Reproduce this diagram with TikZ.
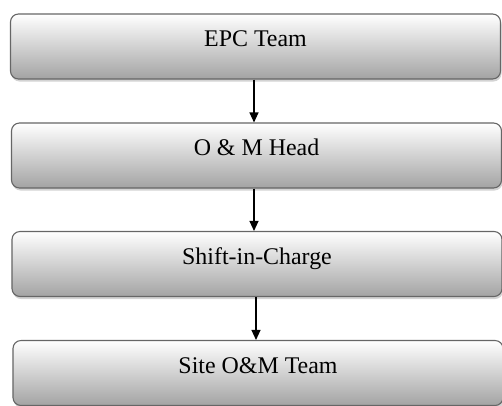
\documentclass[tikz,border=0pt]{standalone}
\usepackage{fontspec}
\setmainfont{Liberation Serif}
\usetikzlibrary{arrows.meta}
\usetikzlibrary{shadows}

\tikzset{
  teambox/.style={draw=black!60, line width=1.1bp, rounded corners=8bp,
    minimum width=490bp, minimum height=65bp, text height=8bp, text depth=8bp,
    top color=white, bottom color=black!36, shading angle=0,
    drop shadow={shadow xshift=1bp, shadow yshift=-2.5bp, opacity=0.35},
    font=\fontsize{24}{28}\selectfont},
  flow/.style={-{Triangle[length=10bp,width=9bp]}, line width=1.2bp, black}
}

\begin{document}
\begin{tikzpicture}[x=1bp,y=-1bp]
\useasboundingbox (0,0) rectangle (502,405);

\coordinate (P1) at (255.5,46.5);
\coordinate (P2) at (256.5,155.5);
\coordinate (P3) at (257,264);
\coordinate (P4) at (258,373);
\node[teambox] (epc) at (P1) {EPC Team};
\node[teambox] (head) at (P2) {O \& M Head};
\node[teambox] (shift) at (P3) {Shift-in-Charge};
\node[teambox] (site) at (P4) {Site O\&M Team};
\draw[flow] (epc.south -| 254,0) -- (head.north -| 254,0);
\draw[flow] (head.south -| 254,0) -- (shift.north -| 254,0);
\draw[flow] (shift.south -| 256,0) -- (site.north -| 256,0);

\end{tikzpicture}
\end{document}
